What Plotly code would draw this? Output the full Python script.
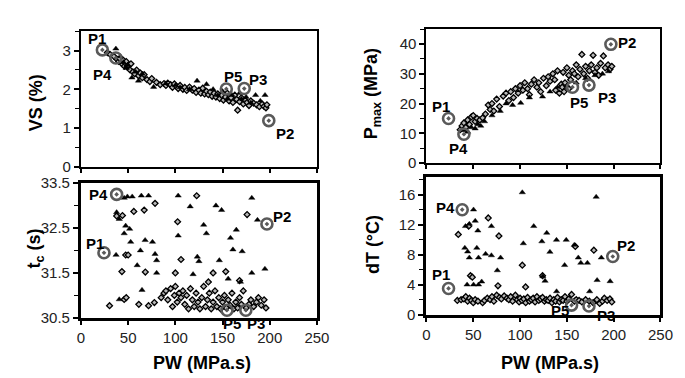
import plotly.graph_objects as go

W, H = 685, 378

# ---------------- DATA ----------------
# Panel A : VS (%) vs PW
vs_dia_pw = [28,31,35,38,40,41,43,44,45,46,47,48,49,50,52,53,55,57,59,61,63,65,67,70,73,75,80,84,88,90,92,95,97,99,101,103,105,108,110,112,115,118,120,122,125,127,129,131,133,135,137,139,141,143,145,147,149,151,153,155,157,159,161,163,165,166,168,170,172,174,176,178,180,183,186,189,192,194,196,197]
vs_dia_val = [2.95,2.9,2.85,2.78,2.72,2.8,2.7,2.65,2.75,2.6,2.68,2.72,2.58,2.62,2.5,2.66,2.45,2.4,2.5,2.35,2.42,2.3,2.38,2.25,2.2,2.28,2.18,2.12,2.15,2.1,2.16,2.12,2.05,2.14,2.08,2.02,2.1,2.0,2.05,1.97,2.06,1.98,2.02,1.92,1.98,1.9,2.03,1.88,1.95,1.86,1.93,1.82,1.9,1.8,1.88,1.76,1.84,1.72,1.8,1.9,1.7,1.78,1.66,1.85,1.74,1.46,1.68,1.78,1.62,1.72,1.66,1.58,1.7,1.64,1.6,1.55,1.62,1.56,1.52,1.6]
vs_tri_pw = [37,42,45,48,50,54,58,61,65,77,90,100,105,115,123,133,140,145,150,155,160,168,170,175,180,185,190,195]
vs_tri_val = [3.05,2.85,2.7,2.55,2.62,2.3,2.45,2.22,2.4,2.06,2.15,2.1,2.05,2.0,2.22,2.13,2.0,1.85,1.95,1.75,1.85,1.9,1.75,1.8,1.65,1.85,1.7,1.85]
vs_hl_pw = [22.7,199,173,37,154]
vs_hl_val = [3.02,1.19,2.02,2.81,2.01]

# Panel B : Pmax (MPa) vs PW
pm_dia_pw = [36,38,40,42,44,46,48,50,52,54,57,60,63,66,68,70,72,75,78,82,85,88,90,93,95,98,100,103,105,108,110,112,115,118,120,122,125,128,130,132,135,137,138,140,142,144,145,146,147,148,150,152,152,154,156,158,160,162,164,166,168,170,172,174,176,178,180,182,184,186,189,191,194,196,198]
pm_dia_val = [11.2,12.5,13.5,12,14.5,13,15.5,16,14,15,14.5,15.2,16.5,19.5,18,20,17.5,21.5,19,22.5,23.5,21,24,22,25,23.5,26,24.5,27,25,23,26.5,28,25.5,27,24,28.5,26,29,27.5,30,28,24.5,31,23.5,26.5,25.5,30.5,24,27,32,29.5,25,28,31,30,33,29,31.5,36.5,30,32.5,28.5,31,33,36.2,30.5,32,29.5,33.5,36,32,33,31.5,32.5]
pm_tri_pw = [40,44,48,52,55,58,62,70,78.8,85,92,100.7,110,124,132,140,150,160,170,180,188,194.5]
pm_tri_val = [11,10.5,12,11.6,13,12.5,14,16,17.5,20,19.5,20.2,22,22.3,24,25.5,26,27,28.5,29.5,30,30.8]
pm_hl_pw = [23.6,197,173.6,40,156]
pm_hl_val = [15,39.9,26.2,9.7,25.5]

# Panel C : tc (s) vs PW
tc_dia_pw = [85,88,90,92,95,97,99,100,102,104,106,108,110,112,114,116,118,120,122,124,126,128,130,132,134,136,138,140,142,144,146,148,150,152,154,156,158,160,162,164,166,168,170,172,175,178,180,183,186,188,191,194,196,
             30.3,45.8,48,61.3,71.6,77.8,43.4,37.8,44,56,67,78.5,47.4,50,68.2,102.4,106,176,153.4,168,135,140,122.6,100]
tc_dia_val = [30.95,31.05,31.1,30.9,31.15,30.75,31.0,31.2,30.85,31.05,30.95,31.1,30.8,31.0,30.7,31.15,30.9,30.75,31.05,30.85,30.7,30.95,31.2,30.75,30.9,31.05,30.7,30.85,31.1,30.75,30.95,30.7,30.85,31.0,30.72,30.9,30.78,31.05,30.7,30.85,30.72,30.95,30.8,31.1,30.72,30.8,30.9,30.75,30.85,30.95,30.78,30.9,30.72,
              30.77,30.91,30.95,30.8,30.77,30.84,31.53,32.77,32.78,32.87,32.9,33.05,31.9,31.9,31.52,32.64,31.8,32.8,31.53,31.33,31.3,31.5,33.22,31.5]
tc_tri_pw = [45.8,49.2,54.3,64,71.6,103,115.7,143,149,181,187,103,132.9,164.6,158.4,130,37.8,40.6,47.4,45.8,51.6,52.7,68,75.8,37.2,63,78.5,59.6,123.3,125,118.8,161,170.8,181,194.9,80.2,80.2,64.7,40.6,156,169,146.6]
tc_tri_val = [33.17,33.2,33.2,33.22,33.22,33.22,32.98,33.0,32.9,33.17,32.68,32.33,32.38,32.46,32.28,32.57,32.85,32.7,32.55,32.38,32.48,32.19,32.23,32.19,31.9,32.0,31.92,31.67,31.86,31.76,31.47,32.02,31.98,31.5,31.59,31.78,31.5,31.12,30.91,31.37,31.3,31.78]
tc_hl_pw = [24.4,197,174.7,37.8,154.7]
tc_hl_val = [31.95,32.59,30.67,33.25,30.67]

# Panel D : dT (°C) vs PW
dt_dia_pw = [33,37,40,42,44,46,48,50,52,55,60,62,65,68,70,72,75,78,80,83,86,88,90,92,95,97,99,100,102,104,106,108,110,112,114,116,118,120,122,124,126,128,130,132,134,136,138,140,142,144,146,148,150,152,155,158,160,163,166,170,174,178,182,185,188,190,193,196,198,
             34,45.1,66,77.4,102.4,105.9,76.4,47,49,178.8,159,124]
dt_dia_val = [1.9,2.0,2.1,2.4,1.8,2.2,1.9,1.6,2.0,1.8,1.6,1.9,2.2,2.0,2.4,1.8,2.6,2.3,2.1,2.5,2.2,2.0,2.4,1.8,2.6,2.0,1.7,2.2,1.9,2.1,1.6,2.3,1.8,2.0,2.2,1.7,2.4,1.9,2.1,2.3,1.8,2.0,1.9,2.2,1.6,2.0,1.8,2.3,1.7,2.0,1.9,2.4,1.8,2.1,2.7,1.8,2.0,1.9,1.7,2.0,1.8,1.6,2.0,1.5,1.8,2.2,1.9,2.1,1.7,
              10.7,11.8,12.9,10.5,6.6,3.7,3.85,5.2,5.0,8.6,9.1,5.2]
dt_tri_pw = [102.4,181.3,50.3,69.4,54.9,52.1,45.8,41.7,128.5,114.6,123.3,138.9,149.3,157.9,103.5,131.9,162.2,186.8,164.9,171.9,147.6,41,44,53.8,55.6,45.8,63.2,69.4,79.2,75.7,43.4,50.3,55.6,59,182.3,196.2,174.3,139,124.3,126.7]
dt_tri_val = [16.3,15.7,14.0,11.8,11.2,12.5,12.1,11.8,10.9,11.8,9.76,9.96,9.96,9.3,9.5,8.36,7.6,7.6,6.9,6.9,6.6,8.9,8.4,8.9,7.6,7.6,8.1,7.9,7.6,5.9,4.0,4.0,4.0,4.4,4.6,4.45,3.1,3.1,5.1,4.5]
dt_hl_pw = [23.6,199,173.6,38.2,155]
dt_hl_val = [3.5,7.76,1.15,14.0,1.27]

hl_labels = ["P1", "P2", "P3", "P4", "P5"]

# ---------------- LAYOUT HELPERS ----------------
def px_x(p):
    return p / W

def px_y(p):
    return 1 - p / H

FONT = "Liberation Sans, Arial, sans-serif"

panels = [
    dict(x="x", y="y", dia=(vs_dia_pw, vs_dia_val), tri=(vs_tri_pw, vs_tri_val), hl=(vs_hl_pw, vs_hl_val),
         shifts=[(-5, 11), (16, -13), (14, 9), (-13, -16), (7, 12)]),
    dict(x="x2", y="y2", dia=(pm_dia_pw, pm_dia_val), tri=(pm_tri_pw, pm_tri_val), hl=(pm_hl_pw, pm_hl_val),
         shifts=[(-8, 12), (16, 2), (18, -12), (-5, -14), (7, -15)]),
    dict(x="x3", y="y3", dia=(tc_dia_pw, tc_dia_val), tri=(tc_tri_pw, tc_tri_val), hl=(tc_hl_pw, tc_hl_val),
         shifts=[(-9, 9), (15, 8), (10, -13), (-18, 0), (5, -13)]),
    dict(x="x4", y="y4", dia=(dt_dia_pw, dt_dia_val), tri=(dt_tri_pw, dt_tri_val), hl=(dt_hl_pw, dt_hl_val),
         shifts=[(-8, 14), (13, 11), (17, -9), (-17, 2), (-12, -5)]),
]

fig = go.Figure()
annotations = []
for p in panels:
    fig.add_trace(go.Scatter(x=p["dia"][0], y=p["dia"][1], mode="markers", xaxis=p["x"], yaxis=p["y"],
                             marker=dict(symbol="diamond", size=4.5, color="#b8b8b8",
                                         line=dict(color="black", width=1.3)),
                             showlegend=False, hoverinfo="skip"))
    fig.add_trace(go.Scatter(x=p["tri"][0], y=p["tri"][1], mode="markers", xaxis=p["x"], yaxis=p["y"],
                             marker=dict(symbol="triangle-up", size=5.5, color="black",
                                         line=dict(color="black", width=0.4)),
                             showlegend=False, hoverinfo="skip"))
    fig.add_trace(go.Scatter(x=p["hl"][0], y=p["hl"][1], mode="markers", xaxis=p["x"], yaxis=p["y"],
                             marker=dict(symbol="circle-open-dot", size=11, color="#5a5a5a",
                                         line=dict(color="#5a5a5a", width=2.6)),
                             showlegend=False, hoverinfo="skip"))
    for lab, xv, yv, (dx, dy) in zip(hl_labels, p["hl"][0], p["hl"][1], p["shifts"]):
        annotations.append(dict(x=xv, y=yv, xref=p["x"], yref=p["y"], text="<b>%s</b>" % lab,
                                showarrow=False, xshift=dx, yshift=dy,
                                font=dict(family=FONT, size=15, color="black")))

tickfont = dict(family=FONT, size=15, color="#222")

def xax(domain, labels, lw):
    return dict(domain=domain, range=[0, 250], dtick=50, tick0=0, showticklabels=labels,
                ticks="outside", ticklen=4, tickwidth=1.5, tickcolor="black",
                ticklabelstandoff=0,
                showline=True, linecolor="black", linewidth=lw, mirror=True,
                showgrid=False, zeroline=False, tickfont=tickfont, fixedrange=True)

def yax(domain, rng, dtick, tick0, minor, lw, anchor):
    return dict(domain=domain, range=rng, dtick=dtick, tick0=tick0,
                ticks="outside", ticklen=5, tickwidth=1.5, tickcolor="black",
                minor=dict(dtick=minor, tick0=tick0, ticks="outside", ticklen=4, tickwidth=1.2, tickcolor="black"),
                showline=True, linecolor="black", linewidth=lw, mirror=True,
                showgrid=False, zeroline=False, tickfont=tickfont, anchor=anchor, fixedrange=True)

xL = [px_x(70.7), px_x(312.7)]
xR = [px_x(425), px_x(665)]

fig.update_layout(
    width=W, height=H, autosize=False,
    margin=dict(l=0, r=0, t=0, b=0),
    paper_bgcolor="white", plot_bgcolor="white",
    font=dict(family=FONT),
    xaxis=dict(xax(xL, False, 2), anchor="y"),
    yaxis=yax([px_y(156.7), px_y(15)], [0, 3.5], 1, 0, 0.5, 2, "x"),
    xaxis2=dict(xax(xR, False, 2), anchor="y2"),
    yaxis2=yax([px_y(153), px_y(12.7)], [0, 45], 10, 0, 5, 2, "x2"),
    xaxis3=dict(xax(xL, True, 3), anchor="y3"),
    yaxis3=yax([px_y(315), px_y(174)], [30.5, 33.5], 1, 30.5, 0.5, 3, "x3"),
    xaxis4=dict(xax(xR, True, 3), anchor="y4"),
    yaxis4=yax([px_y(311.7), px_y(168)], [0, 18.3], 4, 0, 2, 3, "x4"),
)

title_font = dict(family=FONT, size=18, color="black")
titles = [
    ("<b>VS (%)</b>", 25, 90, -90),
    ("<b>t<sub>c</sub> (s)</b>", 24, 242, -90),
    ("<b>P<sub>max</sub> (MPa)</b>", 370, 80, -90),
    ("<b>dT (°C)</b>", 370, 238, -90),
    ("<b>PW (MPa.s)</b>", 195, 362, 0),
    ("<b>PW (MPa.s)</b>", 552, 362, 0),
]
for txt, x, y, ang in titles:
    annotations.append(dict(x=px_x(x), y=px_y(y), xref="paper", yref="paper", text=txt,
                            showarrow=False, textangle=ang, xanchor="center", yanchor="middle",
                            font=title_font))

fig.update_layout(annotations=annotations)
fig.write_html("out.html")
